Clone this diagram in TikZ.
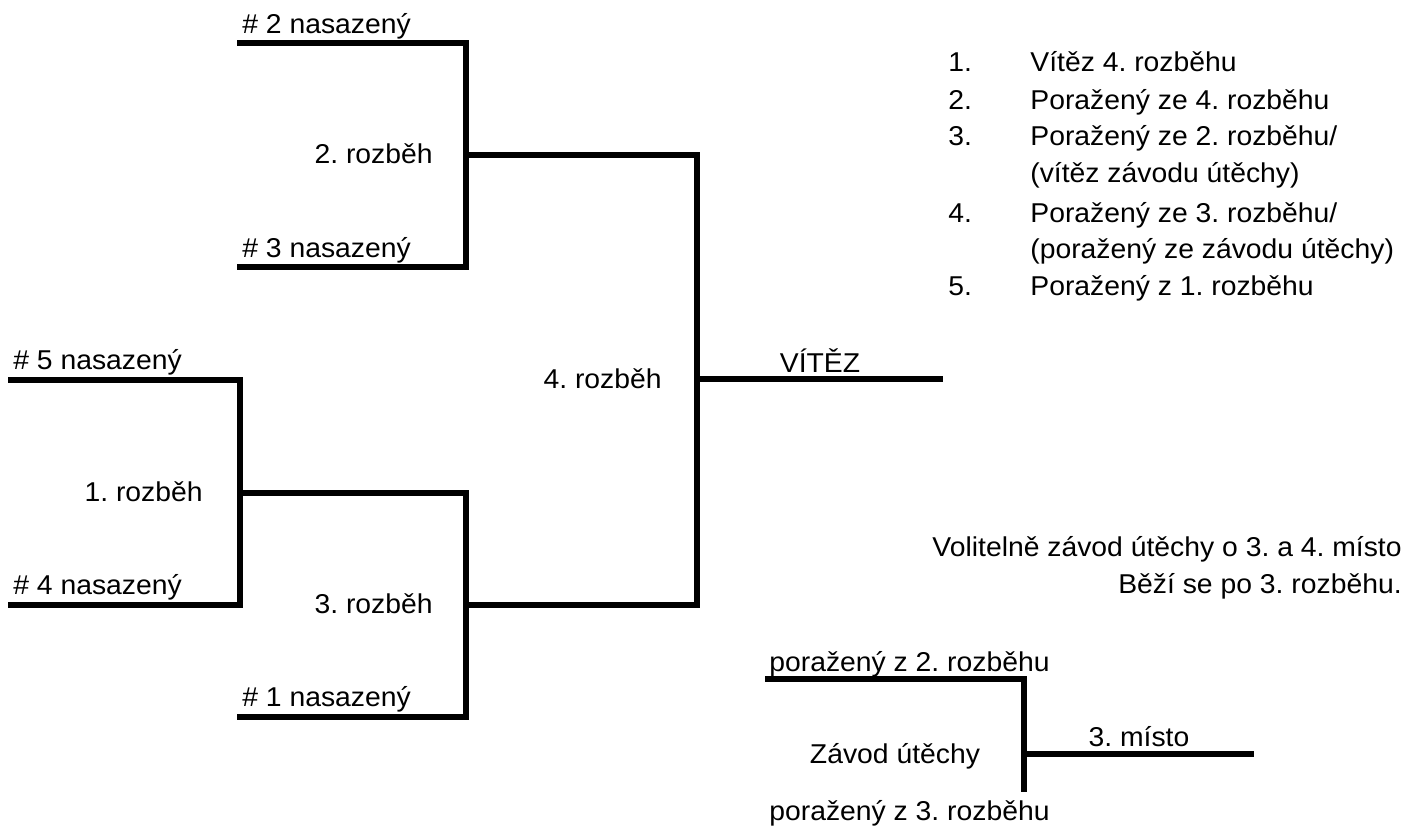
\documentclass[tikz,border=0pt]{standalone}
\usepackage{fontspec}
\setmainfont[FakeStretch=1.04]{Liberation Sans}
\usetikzlibrary{calc}
\frenchspacing

\tikzset{
  bar/.style={line width=3.4pt, line join=miter},
  lbl/.style={inner sep=0pt, font=\fontsize{15.5}{18}\selectfont},
}

\begin{document}
\begin{tikzpicture}[x=0.02cm,y=-0.02cm]
    \useasboundingbox (0,0) rectangle (1405,825);
    % bracket points
    \coordinate (s2) at (237,43);
    \coordinate (s3) at (237,267);
    \coordinate (s5) at (8,380);
    \coordinate (s4) at (8,605);
    \coordinate (s1) at (237,717);
    \coordinate (r2) at (466,155);
    \coordinate (r1) at (240,493);
    \coordinate (r3) at (466,605);
    \coordinate (r4) at (697,379);
    \coordinate (win) at (943,379);
    \coordinate (u2) at (765,679);
    \coordinate (u3) at (1024,792);
    \coordinate (uc) at (1024,754);
    \coordinate (third) at (1254,754);
    % bracket lines
    \draw[bar] (s2) -| (r2) |- (s3);
    \draw[bar] (s5) -| (r1) |- (s4);
    \draw[bar] (r1) -| (r3) |- (s1);
    \draw[bar] (r2) -| (r4) |- (r3);
    \draw[bar] (r4) -- (win);
    \draw[bar] (u2) -| (u3);
    \draw[bar] (uc) -- (third);
    % labels
    \node[lbl,anchor=base west] (n2) at (242,33) {\# 2 nasazený};
    \node[lbl,anchor=base west] (n3) at (242,257) {\# 3 nasazený};
    \node[lbl,anchor=base west] (n5) at (13,369) {\# 5 nasazený};
    \node[lbl,anchor=base west] (n4) at (13,594) {\# 4 nasazený};
    \node[lbl,anchor=base west] (n1) at (242,706) {\# 1 nasazený};
    \node[lbl,anchor=base east] (h2) at (433,163) {2. rozběh};
    \node[lbl,anchor=base east] (h1) at (203,501) {1. rozběh};
    \node[lbl,anchor=base east] (h3) at (433,613) {3. rozběh};
    \node[lbl,anchor=base east] (h4) at (662,388) {4. rozběh};
    \node[lbl,anchor=base] (vit) at (820,372) {VÍTĚZ};
    % final order
    \node[lbl,anchor=base west] (p1) at (948,71) {1.};
    \node[lbl,anchor=base west] (p2) at (948,109) {2.};
    \node[lbl,anchor=base west] (p3) at (948,145) {3.};
    \node[lbl,anchor=base west] (p4) at (948,222) {4.};
    \node[lbl,anchor=base west] (p5) at (948,295) {5.};
    \node[lbl,anchor=base west] (q1) at (1030,71) {Vítěz 4. rozběhu};
    \node[lbl,anchor=base west] (q2) at (1030,109) {Poražený ze 4. rozběhu};
    \node[lbl,anchor=base west] (q3) at (1030,145) {Poražený ze 2. rozběhu/};
    \node[lbl,anchor=base west] (q3b) at (1030,182) {(vítěz závodu útěchy)};
    \node[lbl,anchor=base west] (q4) at (1030,222) {Poražený ze 3. rozběhu/};
    \node[lbl,anchor=base west] (q4b) at (1030,258) {(poražený ze závodu útěchy)};
    \node[lbl,anchor=base west] (q5) at (1030,295) {Poražený z 1. rozběhu};
    % consolation race
    \node[lbl,anchor=base east] (opt) at (1402,556) {Volitelně závod útěchy o 3. a 4. místo};
    \node[lbl,anchor=base east] (optb) at (1402,593) {Běží se po 3. rozběhu.};
    \node[lbl,anchor=base west] (l2) at (769,671) {poražený z 2. rozběhu};
    \node[lbl,anchor=base west] (l3) at (769,820) {poražený z 3. rozběhu};
    \node[lbl,anchor=base] (zu) at (895,763) {Závod útěchy};
    \node[lbl,anchor=base] (m3) at (1139,746) {3. místo};
\end{tikzpicture}
\end{document}
